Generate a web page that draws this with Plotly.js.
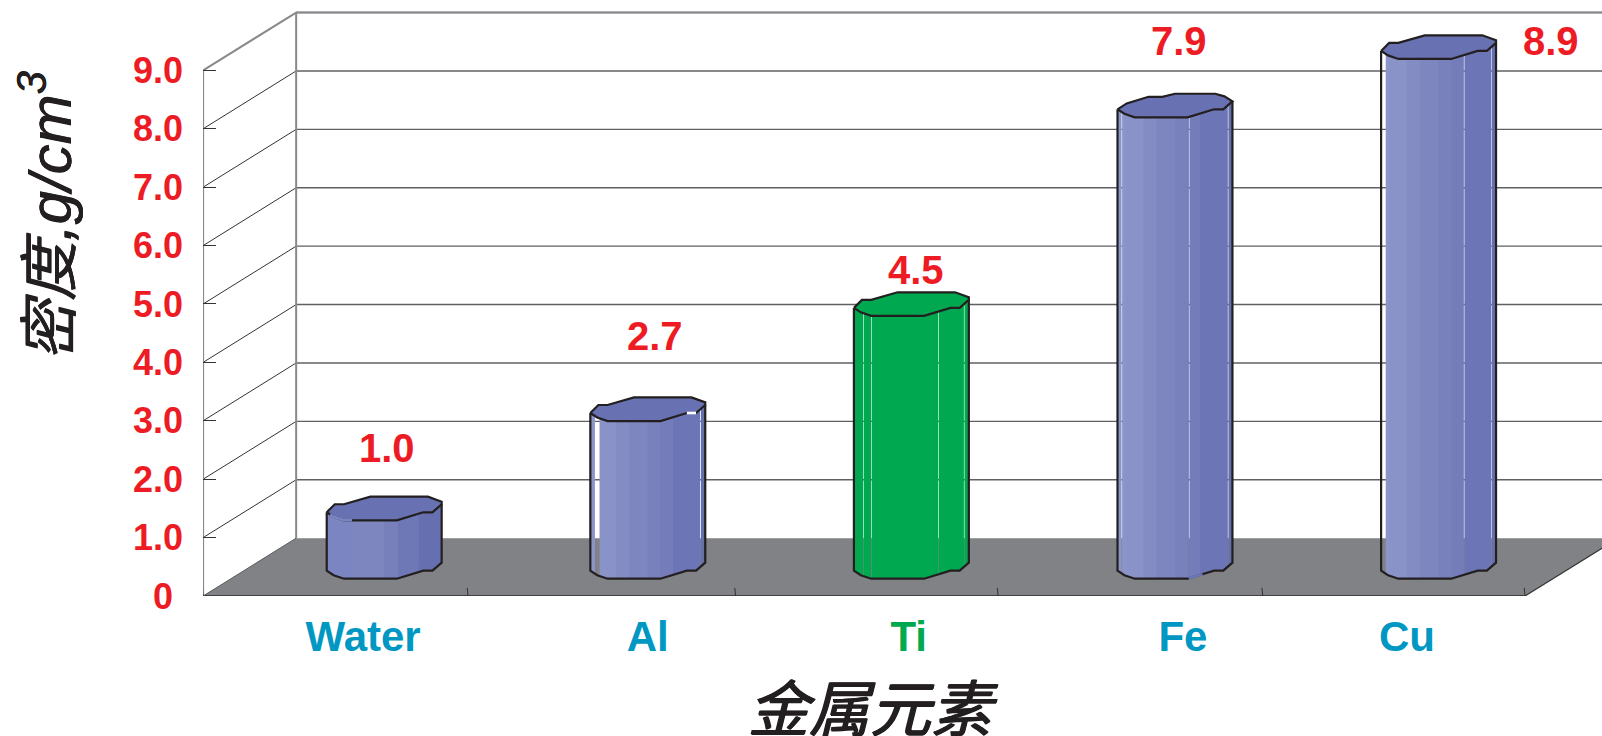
<!DOCTYPE html>
<html>
<head>
<meta charset="utf-8">
<script src="https://cdn.plot.ly/plotly-3.0.1.min.js"></script>
<style>html,body{margin:0;padding:0;background:#fff;overflow:hidden}</style>
</head>
<body>
<div id="chart" style="width:1602px;height:736px"></div>
<script>
// Density of common metals, drawn as faceted columns standing on a floor in oblique projection.
const metals = ['Water', 'Al', 'Ti', 'Fe', 'Cu'];
const densities = [1.0, 2.7, 4.5, 7.9, 8.9];
const yTicks = [0, 1, 2, 3, 4, 5, 6, 7, 8, 9];
const yTickLabels = ['0\u00a0', '1.0', '2.0', '3.0', '4.0', '5.0', '6.0', '7.0', '8.0', '9.0'];

// Label placement along the axes
const metalLabelX = [-0.08, 1.0, 1.99, 3.03, 3.88];
const valueLabelX = [0.01, 1.026, 2.016, 3.017, 4.426];
const valueLabelY = [2.54, 4.46, 5.58, 9.5, 9.5];

const blueFace = '#6871b1';
const greenFill = '#00a94f';
const outline = '#231f20';
const red = '#ed1c24';
const blueText = '#0098c3';

// Oblique projection
const floorLeft = -0.687, floorRight = 4.328;
const depthX = 0.353, depthY = 0.99;
const plotRight = 4.62;
const floorTicks = [-0.687, 0.318, 1.333, 2.329, 3.333, 4.328];

// Column geometry, in axis units
const columnWidth = 0.436, columnBase = 0.296, capDepth = 0.404;
// Front contour of the column section: fraction across the width, fraction of the cap depth
const frontEdge = [[0, .34], [.06, .15], [.15, 0], [.61, 0], [.84, .34], [.92, .34], [1, .68]];
const backEdge = [[1, .79], [.88, 1], [.38, 1], [.15, .68], [.07, .68], [0, .34]];
const backEdgeFe = [[1, .68], [.93, .89], [.85, 1], [.5, 1], [.39, .87], [.27, .87], [.08, .59], [0, .34]];

// Shading bands across the column width
const blueBands = [
  [0, .07, '#8c95c9'], [.07, .225, '#8a93c8'], [.225, .34, '#838cc3'], [.34, .5, '#7e86bf'],
  [.5, .61, '#7981bc'], [.61, .72, '#747cb9'], [.72, .96, '#6c75b5'], [.96, 1, '#6570af']
];
const waterBands = [
  [0, .22, '#7b85c2'], [.22, .5, '#7e86bf'], [.5, .62, '#7780bb'], [.62, .8, '#6f78b7'], [.8, 1, '#6670b1']
];
const greenBands = [[0, 1, greenFill]];
const bandsByColumn = [waterBands, blueBands, greenBands, blueBands, blueBands];

// See-through slits in each column
const slits = [
  [],
  [[.04, .08], [.955, .962]],
  [[.08, .085], [.15, .155], [.733, .738], [.957, .962]],
  [[.035, .04], [.62, .626], [.96, .965]],
  [[.004, .04], [.72, .725], [.96, .965]]
];
// Stretches where the drawn outline is interrupted: [column, on the cap?, from, to, colour]
const outlineBreaks = [
  [0, true, .03, .22, '#7b85c2'],
  [1, true, .84, .92, '#ffffff'],
  [3, false, .62, .74, '#6c75b5']
];

const contourAt = u => {
  for (let k = 1; k < frontEdge.length; k++) {
    const [a, va] = frontEdge[k - 1], [b, vb] = frontEdge[k];
    if (u <= b) return va + (vb - va) * (u - a) / (b - a);
  }
  return frontEdge[frontEdge.length - 1][1];
};

const traces = [];
const poly = (xs, ys, fill) => traces.push({
  x: xs, y: ys, mode: 'lines', fill: 'toself', fillcolor: fill,
  line: {width: 0}, hoverinfo: 'skip', showlegend: false
});
const path = (xs, ys, color, width) => traces.push({
  x: xs, y: ys, mode: 'lines', line: {color: color, width: width, simplify: false},
  hoverinfo: 'skip', showlegend: false, cliponaxis: false
});

// Floor
poly([floorLeft, floorRight, floorRight + depthX, floorLeft + depthX],
     [0, 0, depthY, depthY], '#808285');

// Back wall and side wall rules
yTicks.forEach(v => {
  if (v > 0) path([floorLeft + depthX, plotRight], [v + depthY, v + depthY], '#5f6062', 1.4);
  if (v > 0 && v < 9) path([floorLeft, floorLeft + depthX], [v, v + depthY], '#333333', 1);
});
const wallTop = yTicks[yTicks.length - 1];
path([floorLeft, floorLeft], [0, wallTop], '#88898c', 2);
path([floorLeft + depthX, floorLeft + depthX], [depthY, wallTop + depthY], '#88898c', 2);
path([floorLeft, floorLeft + depthX], [wallTop, wallTop + depthY], '#88898c', 2);
path([floorLeft + depthX, plotRight], [wallTop + depthY, wallTop + depthY], '#88898c', 2);

// Floor edges and category separators
path([floorLeft, floorRight], [-0.03, -0.03], '#b5b6b8', 1.5);
path([floorLeft, floorRight], [0, 0], '#2a2a2b', 1.5);
path([floorRight, plotRight], [0, depthY * (plotRight - floorRight) / depthX], '#333333', 1.2);
path([floorLeft, floorLeft + depthX], [0, depthY], '#58595b', 1);
floorTicks.forEach(t => path([t, t - 0.003], [0, 0.14], '#333333', 1));

// Columns
densities.forEach((value, i) => {
  const xAt = u => i + (u - 0.5) * columnWidth;
  const lift = v => columnBase + v * capDepth;
  const cuts = frontEdge.map(p => p[0]);

  bandsByColumn[i].forEach(([a, b, color]) => {
    // Split each band around the slits
    let spans = [[a, b]];
    slits[i].forEach(([s, e]) => {
      spans = spans.flatMap(([p, q]) =>
        e <= p || s >= q ? [[p, q]] : [[p, s], [e, q]].filter(([m, n]) => n > m));
    });
    spans.forEach(([p, q]) => {
      // Run each strip slightly under its right neighbour so no seam shows between bands
      const touchesSlit = slits[i].some(([s]) => Math.abs(s - q) < 1e-9);
      const end = q < 1 && !touchesSlit ? Math.min(1, q + 0.008) : q;
      const us = [p, ...cuts.filter(c => c > p && c < end), end];
      const lower = us.map(u => lift(contourAt(u)));
      const upper = us.map(u => lift(contourAt(u)) + value);
      poly([...us.map(xAt), ...us.slice().reverse().map(xAt)],
           [...lower, ...upper.slice().reverse()], color);
    });
  });

  // Top cap
  const ring = [...frontEdge, ...(metals[i] === 'Fe' ? backEdgeFe : backEdge)];
  const capFill = metals[i] === 'Ti' ? greenFill : blueFace;
  poly(ring.map(p => xAt(p[0])), ring.map(p => lift(p[1]) + value), capFill);
  path(ring.map(p => xAt(p[0])), ring.map(p => lift(p[1]) + value), outline, 2.2);

  // Silhouette below the cap
  const sx = [xAt(0), ...frontEdge.map(p => xAt(p[0])), xAt(1)];
  const sy = [lift(frontEdge[0][1]) + value, ...frontEdge.map(p => lift(p[1])), lift(frontEdge[6][1]) + value];
  path(sx, sy, outline, 2.2);

  // Breaks in the outline
  outlineBreaks.filter(b => b[0] === i).forEach(([, onCap, from, to, color]) => {
    const us = [from, ...cuts.filter(c => c > from && c < to), to];
    const top = onCap ? value : 0;
    path(us.map(xAt), us.map(u => lift(contourAt(u)) + top), color, 2.6);
  });
});

const numberFont = {family: '"Liberation Sans Narrow", "Liberation Sans", Arial, sans-serif', weight: 'bold'};
const titleShadow = '0.7px 0 0 #231f20, -0.7px 0 0 #231f20, 0 0.5px 0 #231f20';

const annotations = densities.map((value, i) => ({
  x: valueLabelX[i], y: valueLabelY[i], xref: 'x', yref: 'y', showarrow: false,
  text: value.toFixed(1),
  font: {...numberFont, size: 40, color: red}
}));
annotations.push({
  x: 0, y: 1, xref: 'paper', yref: 'paper', xshift: -157, yshift: -216,
  showarrow: false, textangle: -90, xanchor: 'center', yanchor: 'middle',
  text: '密度,g/cm<sup>3</sup>',
  font: {family: '"Liberation Sans", "Noto Sans CJK SC", sans-serif', size: 60, style: 'italic', color: '#231f20', shadow: '0.4px 0 0 #231f20, -0.4px 0 0 #231f20'}
});
annotations.push({
  x: 0.479, y: 0, xref: 'paper', yref: 'paper', yshift: -108,
  showarrow: false, xanchor: 'center', yanchor: 'middle',
  text: '金属元素',
  font: {family: '"Noto Sans CJK SC", sans-serif', size: 61, style: 'italic', color: '#231f20', shadow: titleShadow}
});

Plotly.newPlot('chart', traces, {
  width: 1602, height: 736,
  margin: {l: 203, r: 0, t: 0, b: 140, pad: 0},
  paper_bgcolor: '#ffffff', plot_bgcolor: '#ffffff',
  showlegend: false,
  xaxis: {
    range: [-0.6874, plotRight], showgrid: false, zeroline: false, showline: false, ticks: '',
    tickmode: 'array', tickvals: metalLabelX,
    ticktext: metals.map(m => m === 'Ti' ? `<span style="color:${greenFill}">${m}</span>` : m),
    ticklabelstandoff: 12,
    tickfont: {family: '"Liberation Sans", Arial, sans-serif', weight: 'bold', size: 42, color: blueText}
  },
  yaxis: {
    range: [0, 10.205], showgrid: false, zeroline: false, showline: false,
    tickmode: 'array', tickvals: yTicks, ticktext: yTickLabels,
    ticks: 'inside', ticklen: 13, tickwidth: 1, tickcolor: '#333333',
    ticklabelstandoff: 19,
    tickfont: {...numberFont, size: 36, color: red}
  },
  annotations: annotations
}, {displayModeBar: false, staticPlot: true});
</script>
</body>
</html>
